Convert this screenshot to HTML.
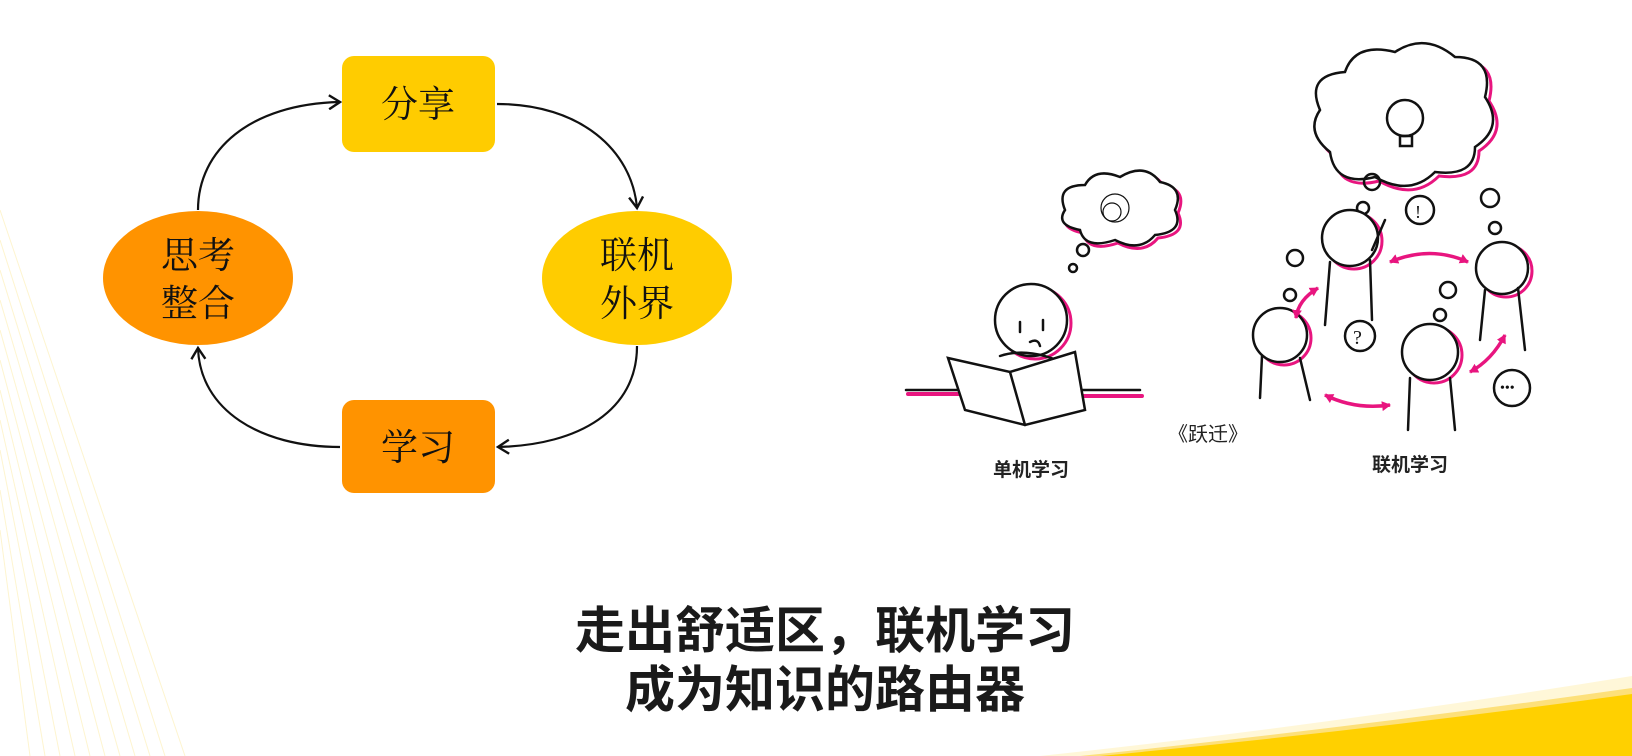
<!DOCTYPE html>
<html><head><meta charset="utf-8"><style>
html,body{margin:0;padding:0;background:#fff;width:1632px;height:756px;overflow:hidden}
svg{display:block}
</style></head><body>
<svg width="1632" height="756" viewBox="0 0 1632 756" xmlns="http://www.w3.org/2000/svg">
<defs>
<marker id="ah" markerWidth="16" markerHeight="16" refX="12" refY="8" orient="auto" markerUnits="userSpaceOnUse"><path d="M1,1 L12,8 L1,15" fill="none" stroke="#111" stroke-width="2.4"/></marker>
<marker id="pk" markerWidth="10" markerHeight="10" refX="8" refY="5" orient="auto-start-reverse" markerUnits="userSpaceOnUse"><path d="M0,0 L9,5 L0,10z" fill="#e8157f"/></marker>
</defs>
<!-- left faint stripes -->
<g stroke="#fdeeb0" stroke-width="1" opacity="0.6">
<path d="M0,270 L150,756"/><path d="M0,300 L135,756"/><path d="M0,330 L120,756"/><path d="M0,360 L105,756"/><path d="M0,390 L90,756"/><path d="M0,420 L75,756"/><path d="M0,450 L60,756"/><path d="M0,490 L45,756"/><path d="M0,530 L30,756"/><path d="M0,240 L165,756"/><path d="M0,210 L185,756"/>
</g>
<!-- bottom right yellow -->
<path d="M1040,756 Q1330,725 1632,676 L1632,756Z" fill="#fff4c8" opacity="0.7"/>
<path d="M1080,756 Q1350,728 1632,688 L1632,756Z" fill="#fde07a"/>
<path d="M1100,756 Q1370,730 1632,694 L1632,756Z" fill="#ffd000"/>

<!-- cycle arrows -->
<g fill="none" stroke="#111" stroke-width="2.2">
<path d="M198,210 C198,150 250,104 340,102" marker-end="url(#ah)"/>
<path d="M497,104 C580,104 632,150 637,208" marker-end="url(#ah)"/>
<path d="M637,346 C637,410 580,445 498,447" marker-end="url(#ah)"/>
<path d="M340,447 C260,447 200,410 198,348" marker-end="url(#ah)"/>
</g>
<rect x="342" y="56" width="153" height="96" rx="12" fill="#ffcc00"/>
<rect x="342" y="400" width="153" height="93" rx="12" fill="#ff9300"/>
<ellipse cx="198" cy="278" rx="95" ry="67" fill="#ff9300"/>
<ellipse cx="637" cy="278" rx="95" ry="67" fill="#ffcc00"/>
<g font-family="Liberation Serif, Noto Serif CJK SC, serif" font-size="37" fill="#111" text-anchor="middle">
<text x="418" y="117">分享</text>
<text x="418" y="460">学习</text>
<text x="198" y="268">思考</text>
<text x="198" y="316">整合</text>
<text x="637" y="268">联机</text>
<text x="637" y="316">外界</text>
</g>

<!-- illustration -->
<g fill="none" stroke="#111" stroke-width="2.5" stroke-linecap="round">
<path d="M908,394 L1000,394 M1060,396 L1142,396" stroke="#e8157f" stroke-width="4"/>
<path d="M906,390 L1000,390 M1060,390 L1140,390"/>
<circle cx="1035" cy="323" r="36" stroke="#e8157f" stroke-width="3"/>
<circle cx="1031" cy="320" r="36" fill="#fff"/>
<path d="M1020,322 v10 M1043,320 v10 M1030,342 q8,-4 10,4"/>
<path d="M1000,356 q30,-10 70,10 q20,20 0,28"/>
<path d="M948,358 L1010,372 L1075,352 L1085,410 L1025,425 L965,410Z" fill="#fff"/>
<path d="M1010,372 L1025,425"/>
<path d="M1068,213 q-10,-25 20,-25 q10,-18 35,-8 q25,-15 40,5 q25,5 15,28 q10,22 -20,25 q-15,18 -40,5 q-30,10 -35,-10 q-25,-5 -15,-20Z" stroke="#e8157f" stroke-width="3"/>
<path d="M1065,210 q-10,-25 20,-25 q10,-18 35,-8 q25,-15 40,5 q25,5 15,28 q10,22 -20,25 q-15,18 -40,5 q-30,10 -35,-10 q-25,-5 -15,-20Z" fill="#fff"/>
<circle cx="1115" cy="208" r="14" stroke-width="1.2"/><circle cx="1112" cy="212" r="9" stroke-width="1.2"/>
<circle cx="1083" cy="250" r="6"/><circle cx="1073" cy="268" r="4"/>
<path d="M1324,114 q-15,-35 25,-38 q10,-30 50,-20 q30,-20 60,5 q40,0 30,40 q20,30 -10,50 q0,30 -40,25 q-25,25 -60,5 q-40,10 -45,-25 q-25,-20 -10,-42Z" stroke="#e8157f" stroke-width="3"/>
<path d="M1320,110 q-15,-35 25,-38 q10,-30 50,-20 q30,-20 60,5 q40,0 30,40 q20,30 -10,50 q0,30 -40,25 q-25,25 -60,5 q-40,10 -45,-25 q-25,-20 -10,-42Z" fill="#fff"/>
<circle cx="1405" cy="118" r="18"/><path d="M1400,136 h12 v10 h-12z"/>
<circle cx="1372" cy="182" r="8"/><circle cx="1363" cy="208" r="6"/>
<g stroke="#e8157f" stroke-width="3"><circle cx="1354" cy="241" r="28"/><circle cx="1506" cy="271" r="26"/><circle cx="1284" cy="338" r="27"/><circle cx="1434" cy="355" r="28"/></g>
<circle cx="1350" cy="238" r="28" fill="#fff"/><path d="M1330,262 L1325,325 M1370,260 L1372,320 M1372,250 L1385,220"/>
<circle cx="1502" cy="268" r="26" fill="#fff"/><path d="M1485,290 L1480,340 M1518,288 L1525,350"/>
<circle cx="1280" cy="335" r="27" fill="#fff"/><path d="M1262,356 L1260,398 M1300,358 L1310,400"/>
<circle cx="1430" cy="352" r="28" fill="#fff"/><path d="M1410,378 L1408,430 M1450,378 L1455,430"/>
<circle cx="1420" cy="210" r="14"/><text x="1415" y="218" font-size="18" fill="#111" stroke="none">!</text>
<circle cx="1360" cy="336" r="15"/><text x="1353" y="344" font-size="20" fill="#111" stroke="none">?</text>
<circle cx="1512" cy="388" r="18"/><text x="1500" y="392" font-size="14" fill="#111" stroke="none">•••</text>
<circle cx="1295" cy="258" r="8"/><circle cx="1290" cy="295" r="6"/><circle cx="1490" cy="198" r="9"/><circle cx="1495" cy="228" r="6"/><circle cx="1448" cy="290" r="8"/><circle cx="1440" cy="315" r="6"/>
</g>
<g fill="none" stroke="#e8157f" stroke-width="3.5">
<path d="M1390,262 Q1430,245 1468,262" marker-start="url(#pk)" marker-end="url(#pk)"/>
<path d="M1318,288 Q1298,300 1296,318" marker-start="url(#pk)" marker-end="url(#pk)"/>
<path d="M1325,395 Q1355,410 1390,405" marker-start="url(#pk)" marker-end="url(#pk)"/>
<path d="M1470,372 Q1492,360 1505,335" marker-start="url(#pk)" marker-end="url(#pk)"/>
</g>
<g font-family="Liberation Sans, Noto Sans CJK SC, sans-serif" fill="#222" text-anchor="middle">
<text x="1208" y="441" font-size="20">《跃迁》</text>
<text x="1031" y="476" font-size="19" font-weight="bold">单机学习</text>
<text x="1410" y="471" font-size="19" font-weight="bold">联机学习</text>
</g>
<g font-family="Liberation Sans, Noto Sans CJK SC, sans-serif" font-size="50" font-weight="bold" fill="#1a1a1a" text-anchor="middle">
<text x="825" y="648">走出舒适区，联机学习</text>
<text x="825" y="707">成为知识的路由器</text>
</g>
</svg>
</body></html>
